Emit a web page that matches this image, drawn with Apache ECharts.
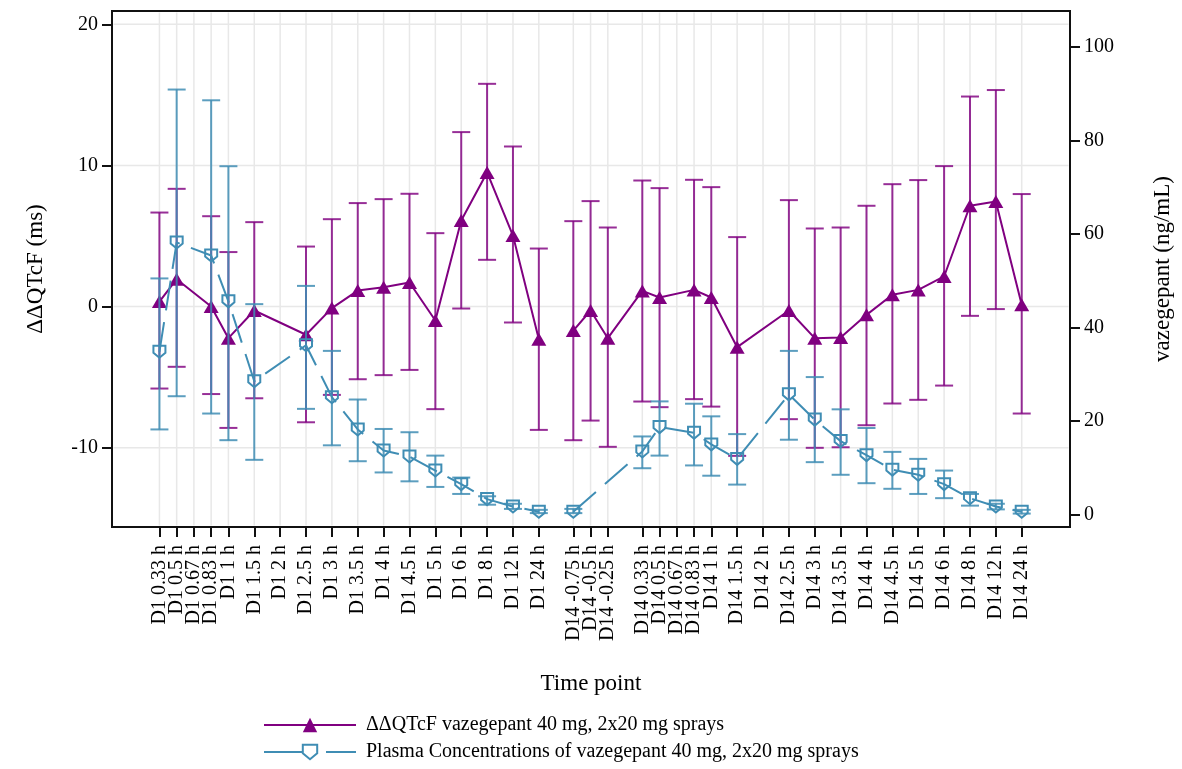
<!DOCTYPE html>
<html>
<head>
<meta charset="utf-8">
<script src="https://cdn.jsdelivr.net/npm/echarts@6/dist/echarts.min.js"></script>
<style>html,body{margin:0;padding:0;background:#fff}#c{width:1182px;height:769px}</style>
</head>
<body>
<div id="c"></div>
<script>
// ---- data ----
const timeLabels = ['D1 0.33 h','D1 0.5 h','D1 0.67 h','D1 0.83 h','D1 1 h','D1 1.5 h','D1 2 h','D1 2.5 h','D1 3 h','D1 3.5 h','D1 4 h','D1 4.5 h','D1 5 h','D1 6 h','D1 8 h','D1 12 h','D1 24 h',
  'D14 -0.75 h','D14 -0.5 h','D14 -0.25 h','D14 0.33 h','D14 0.5 h','D14 0.67 h','D14 0.83 h','D14 1 h','D14 1.5 h','D14 2 h','D14 2.5 h','D14 3 h','D14 3.5 h','D14 4 h','D14 4.5 h','D14 5 h','D14 6 h','D14 8 h','D14 12 h','D14 24 h'];
// x value of each time point on the (uneven) time-point axis
const xPos = [0,2,4,6,8,11,14,17,20,23,26,29,32,35,38,41,44, 48,50,52, 56,58,60,62,64,67,70,73,76,79,82,85,88,91,94,97,100];
// day index of each time point (1 = D1, 14 = D14)
const dayOf = [1,1,1,1,1,1,1,1,1,1,1,1,1,1,1,1,1, 14,14,14,14,14,14,14,14,14,14,14,14,14,14,14,14,14,14,14,14];

const qtcMean  = [0.35,1.94,null,0.0,-2.24,-0.28,null,-2.0,-0.11,1.13,1.37,1.70,-0.99,6.1,9.5,5.03,-2.31, -1.70,-0.28,-2.24,1.11,0.64,null,1.18,0.64,-2.88,null,-0.28,-2.24,-2.2,-0.59,0.83,1.18,2.13,7.14,7.44,0.12];
const qtcUpper = [6.66,8.34,null,6.4,3.86,5.98,null,4.25,6.19,7.33,7.61,7.99,5.2,12.36,15.78,11.34,4.11, 6.05,7.47,5.6,8.93,8.39,null,8.98,8.46,4.92,null,7.54,5.53,5.6,7.14,8.67,8.96,9.95,14.88,15.34,7.97];
const qtcLower = [-5.81,-4.27,null,-6.2,-8.6,-6.5,null,-8.2,-6.26,-5.15,-4.86,-4.49,-7.27,-0.14,3.31,-1.13,-8.74, -9.47,-8.08,-9.94,-6.73,-7.13,null,-6.56,-7.09,-10.58,null,-7.98,-10.01,-9.97,-8.41,-6.87,-6.61,-5.6,-0.66,-0.18,-7.58];

const pkMean  = [34.8,58.2,null,55.4,45.6,28.5,null,36.2,25.1,18.2,13.7,12.4,9.4,6.5,3.3,1.7,0.6, 0.6,null,null,13.5,18.7,null,17.5,15.0,11.9,null,25.7,20.3,15.7,12.7,9.6,8.5,6.5,3.5,1.7,0.6];
const pkUpper = [50.5,90.9,null,88.6,74.5,45.0,null,48.9,35.0,24.6,18.3,17.6,12.6,7.9,3.9,2.3,1.0, 1.2,null,null,16.7,24.2,null,23.7,21.0,17.2,null,35.0,29.4,22.5,18.5,13.4,11.9,9.4,4.4,2.3,1.0];
const pkLower = [18.2,25.3,null,21.6,15.9,11.7,null,22.6,14.8,11.4,9.0,7.1,5.9,4.4,2.1,1.2,0.3, 0.3,null,null,9.9,12.6,null,10.5,8.3,6.4,null,16.0,11.2,8.5,6.7,5.5,4.4,3.5,1.9,1.1,0.2];

const leftTicks = [-10,0,10,20];
const rightTicks = [0,20,40,60,80,100];

const qtcName = 'ΔΔQTcF vazegepant 40 mg, 2x20 mg sprays';
const pkName = 'Plasma Concentrations of vazegepant 40 mg, 2x20 mg sprays';

// ---- helpers ----
const FONT = "'Liberation Serif','Times New Roman',serif";
const PURPLE = '#800080';
const BLUE = '#3f8db4';
const shield = 'path://M0,0 L12,0 L12,7 L6,12 L0,7 Z';
const X_MIN = -5.5, X_MAX = 105.6;

function dayLine(mean, day) {
  const out = [];
  for (let i = 0; i < xPos.length; i++) {
    if (dayOf[i] === day && mean[i] != null) out.push([xPos[i], mean[i]]);
  }
  return out;
}
function errData(lower, upper) {
  const out = [];
  for (let i = 0; i < xPos.length; i++) {
    if (lower[i] != null) out.push([xPos[i], lower[i], upper[i]]);
  }
  return out;
}
function errRender(color) {
  return function (params, api) {
    const x = api.value(0);
    const lo = api.coord([x, api.value(1)]);
    const hi = api.coord([x, api.value(2)]);
    const w = 9;
    const style = { stroke: color, lineWidth: 2 };
    return {
      type: 'group',
      children: [
        { type: 'line', shape: { x1: lo[0], y1: lo[1], x2: hi[0], y2: hi[1] }, style },
        { type: 'line', shape: { x1: lo[0] - w, y1: lo[1], x2: lo[0] + w, y2: lo[1] }, style },
        { type: 'line', shape: { x1: hi[0] - w, y1: hi[1], x2: hi[0] + w, y2: hi[1] }, style }
      ]
    };
  };
}

const chart = echarts.init(document.getElementById('c'), null, { renderer: 'canvas' });

// label positions: blank guard labels at both axis ends so no real label is treated as the min/max label
const labelValues = [X_MIN].concat(xPos, [X_MAX]);

const option = {
  animation: false,
  backgroundColor: '#fff',
  textStyle: { fontFamily: FONT },
  grid: { left: 112, right: 110, top: 11, bottom: 242, show: true, borderColor: '#111', borderWidth: 2, backgroundColor: 'transparent' },
  legend: {
    data: [qtcName, { name: pkName, lineStyle: { type: [38, 24] } }],
    orient: 'vertical',
    left: 258, top: 710,
    itemWidth: 92, itemHeight: 18, itemGap: 7,
    textStyle: { fontFamily: FONT, fontSize: 20, color: '#000', padding: [0, 0, 0, 5] }
  },
  xAxis: {
    type: 'value', min: X_MIN, max: X_MAX,
    name: 'Time point', nameLocation: 'middle', nameGap: 145,
    nameTextStyle: { fontFamily: FONT, fontSize: 23, color: '#000' },
    axisLine: { show: true, onZero: false, lineStyle: { color: '#111', width: 2 } },
    axisTick: { show: true, customValues: xPos, length: 10, lineStyle: { color: '#111', width: 2 } },
    axisLabel: {
      customValues: labelValues, rotate: 90, margin: 18, fontSize: 20, fontFamily: FONT, color: '#000',
      hideOverlap: false,
      formatter: v => { const i = xPos.indexOf(v); return i >= 0 ? timeLabels[i] : ' '; }
    },
    splitLine: { show: false }
  },
  yAxis: [
    {
      type: 'value', min: -15.62, max: 20.94, position: 'left',
      name: 'ΔΔQTcF (ms)', nameLocation: 'middle', nameGap: 65, nameRotate: 90,
      nameTextStyle: { fontFamily: FONT, fontSize: 23, color: '#000' },
      axisLine: { show: true, onZero: false, lineStyle: { color: '#111', width: 2 } },
      axisTick: { show: true, customValues: leftTicks, length: 10, lineStyle: { color: '#111', width: 2 } },
      axisLabel: { customValues: leftTicks, margin: 14, fontSize: 20, fontFamily: FONT, color: '#000' },
      splitLine: { show: false }
    },
    {
      type: 'value', min: -2.67, max: 107.7, position: 'right',
      name: 'vazegepant (ng/mL)', nameLocation: 'middle', nameGap: 81, nameRotate: 90,
      nameTextStyle: { fontFamily: FONT, fontSize: 23, color: '#000' },
      axisLine: { show: true, onZero: false, lineStyle: { color: '#111', width: 2 } },
      axisTick: { show: true, customValues: rightTicks, length: 10, lineStyle: { color: '#111', width: 2 } },
      axisLabel: { customValues: rightTicks, margin: 14, fontSize: 20, fontFamily: FONT, color: '#000' },
      splitLine: { show: false }
    }
  ],
  series: [
    // grid lines
    {
      type: 'custom', name: 'vgrid', silent: true, z: 0, yAxisIndex: 0,
      data: xPos.map(p => [p, 0]),
      renderItem: function (params, api) {
        const cs = params.coordSys;
        const x = api.coord([api.value(0), 0])[0];
        return { type: 'line', shape: { x1: x, y1: cs.y + 1.5, x2: x, y2: cs.y + cs.height - 1.5 }, style: { stroke: '#e8e8e8', lineWidth: 1.5 } };
      }
    },
    {
      type: 'custom', name: 'hgrid', silent: true, z: 0, yAxisIndex: 0,
      data: leftTicks.map(t => [0, t]),
      renderItem: function (params, api) {
        const cs = params.coordSys;
        const y = api.coord([0, api.value(1)])[1];
        return { type: 'line', shape: { x1: cs.x + 1.5, y1: y, x2: cs.x + cs.width - 1.5, y2: y }, style: { stroke: '#e8e8e8', lineWidth: 1.5 } };
      }
    },
    // QTcF error bars
    {
      type: 'custom', name: 'qtcErr', yAxisIndex: 0, z: 2, silent: true,
      data: errData(qtcLower, qtcUpper), encode: { x: 0, y: [1, 2] },
      renderItem: errRender('rgba(128,0,128,0.82)')
    },
    {
      type: 'line', name: qtcName, yAxisIndex: 0, z: 3, data: dayLine(qtcMean, 1),
      symbol: 'triangle', symbolSize: [15, 13],
      lineStyle: { color: PURPLE, width: 2 }, itemStyle: { color: PURPLE }
    },
    {
      type: 'line', name: qtcName, yAxisIndex: 0, z: 3, data: dayLine(qtcMean, 14),
      symbol: 'triangle', symbolSize: [15, 13],
      lineStyle: { color: PURPLE, width: 2 }, itemStyle: { color: PURPLE }
    },
    // PK error bars
    {
      type: 'custom', name: 'pkErr', yAxisIndex: 1, z: 4, silent: true,
      data: errData(pkLower, pkUpper), encode: { x: 0, y: [1, 2] },
      renderItem: errRender('rgba(63,141,180,0.85)')
    },
    {
      type: 'line', name: pkName, yAxisIndex: 1, z: 5, data: dayLine(pkMean, 1),
      symbol: shield, symbolSize: 12, symbolKeepAspect: true,
      lineStyle: { color: BLUE, width: 2, type: [30, 12] },
      itemStyle: { color: 'rgba(255,255,255,0)', borderColor: BLUE, borderWidth: 2 }
    },
    {
      type: 'line', name: pkName, yAxisIndex: 1, z: 5, data: dayLine(pkMean, 14),
      symbol: shield, symbolSize: 12, symbolKeepAspect: true,
      lineStyle: { color: BLUE, width: 2, type: [30, 12] },
      itemStyle: { color: 'rgba(255,255,255,0)', borderColor: BLUE, borderWidth: 2 }
    }
  ]
};
chart.setOption(option);
</script>
</body>
</html>
